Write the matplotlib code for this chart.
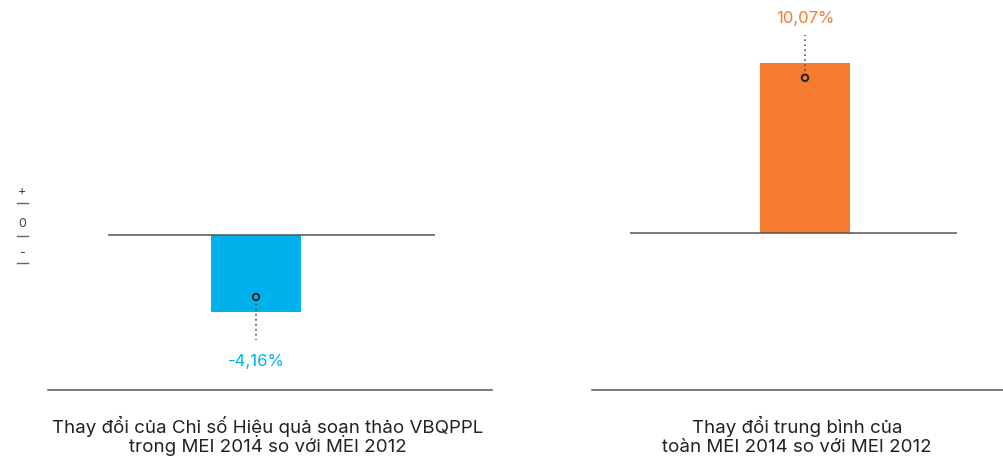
import matplotlib.pyplot as plt

plt.rcParams['font.family'] = ['Inter', 'DejaVu Sans']

# Panel data
captions = [
    'Thay đổi của Chỉ số Hiệu quả soạn thảo VBQPPL\ntrong MEI 2014 so với MEI 2012',
    'Thay đổi trung bình của\ntoàn MEI 2014 so với MEI 2012',
]
changes = [-4.16, 10.07]
value_labels = ['-4,16%', '10,07%']
colors = ['#00b2ec', '#f47b2f']

W, H = 1004, 457
fig = plt.figure(figsize=(W / 100, H / 100), dpi=100)


def px_axes(x0, x1, y0, y1):
    # axes placed by pixel box (top-left origin)
    return fig.add_axes([x0 / W, 1 - y1 / H, (x1 - x0) / W, (y1 - y0) / H])


# axis extents: (left px, right px, zero px, px per unit, bar centre px)
panels = [
    (108, 435, 235, 18.5, 256),
    (630, 957, 233, 16.9, 805),
]
bar_px = 90
sep_lines = [(48, 492), (592, 1004)]
caption_x = [268, 797]

for i, (x0, x1, zero, scale, cx) in enumerate(panels):
    ax = px_axes(x0, x1, 0, 390)
    span = (x1 - x0) / bar_px * 0.8
    left = -(cx - x0) / (x1 - x0) * span
    ax.set_xlim(left, left + span)
    ax.set_ylim(-(390 - zero) / scale, zero / scale)
    ax.axis('off')

    v = changes[i]
    ax.bar(0, v, width=0.8, color=colors[i], zorder=2)
    ax.axhline(0, color='#555555', lw=1.1, zorder=3)

    sign = 1 if v > 0 else -1
    # marker sits a little inside the bar end, dotted leader runs to the label
    ax.scatter([0], [v - sign * 15 / scale], s=22, facecolor='none',
               edgecolor='#222222', linewidth=1.4, zorder=4)
    ax.plot([0, 0], [v - sign * 8 / scale, v + sign * 28 / scale],
            color='#555555', lw=1.2, ls=(0, (1, 2)), zorder=4)
    ax.annotate(value_labels[i], xy=(0, v), xytext=(0, 44 if v > 0 else -50),
                textcoords='offset pixels', ha='center', va='center',
                fontsize=12, color=colors[i])

    xa, xb = sep_lines[i]
    fig.add_artist(plt.Line2D([xa / W, xb / W], [1 - 390 / H] * 2,
                              color='#555555', lw=1.1))
    fig.text(caption_x[i] / W, 1 - 436 / H, captions[i], ha='center',
             va='center', fontsize=13.5, color='#222222', linespacing=1.12)

# sign key on the left edge
for label, y_txt, y_line in [('+', 192, 203), ('0', 224, 236), ('-', 253, 263)]:
    fig.text(22 / W, 1 - y_txt / H, label, ha='center', va='center',
             fontsize=9, color='#444444')
    fig.add_artist(plt.Line2D([17 / W, 28 / W], [1 - y_line / H] * 2,
                              color='#666666', lw=1))

fig.savefig('out.png', dpi=100)
